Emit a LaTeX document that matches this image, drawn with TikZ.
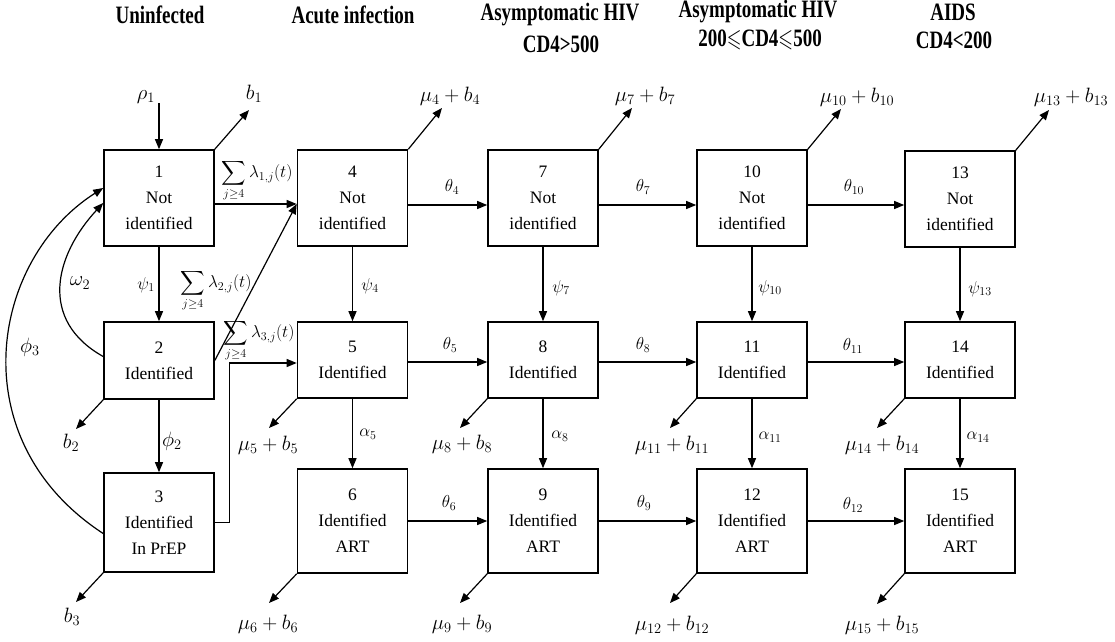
\documentclass[tikz,border=0pt]{standalone}
\usepackage{amssymb}
\usepackage{graphicx}
\usepackage{fontspec}
\setmainfont{Liberation Serif}
\usetikzlibrary{arrows.meta,calc}
\newcommand\hdrtxt[1]{\scalebox{0.95}[1.25]{#1}}
\begin{document}
\begin{tikzpicture}[x=1pt,y=-1pt,
  box/.style={draw,line width=1.6pt,minimum width=110pt,inner sep=0pt,align=center,font=\fontsize{17.5}{26}\selectfont},
  r1box/.style={box,minimum height=96pt},
  r2box/.style={box,minimum height=76pt},
  r3box/.style={box,minimum height=104pt},
  arr/.style={line width=1.2pt,-{Triangle[length=10pt,width=8pt]}},
  lbl/.style={inner sep=0pt,font=\fontsize{20}{24}\selectfont},
  sml/.style={inner sep=0pt,font=\fontsize{17}{20}\selectfont},
  hdr/.style={inner sep=0pt,font=\fontsize{20}{24}\selectfont\bfseries}]
\useasboundingbox (0,0) rectangle (1115,641);

% headers
\node[hdr] (h1) at (160,15) {\hdrtxt{Uninfected}};
\node[hdr] (h2) at (353,15) {\hdrtxt{Acute infection}};
\node[hdr] (h3) at (560,15) {\hdrtxt{Asymptomatic HIV}};
\node[hdr] (h3b) at (561,44) {\hdrtxt{CD4>500}};
\node[hdr] (h4) at (758,12) {\hdrtxt{Asymptomatic HIV}};
\node[hdr] (h4b) at (760,40) {\hdrtxt{200$\leqslant$CD4$\leqslant$500}};
\node[hdr] (h5) at (953,12) {\hdrtxt{AIDS}};
\node[hdr] (h5b) at (954,40) {\hdrtxt{CD4<200}};

% boxes
\node[r1box] (n1) at (159,198) {1\\Not\\identified};
\node[r1box] (n4) at (352.5,198) {4\\Not\\identified};
\node[r1box] (n7) at (543,198) {7\\Not\\identified};
\node[r1box] (n10) at (752,198) {10\\Not\\identified};
\node[r1box] (n13) at (960,199) {13\\Not\\identified};

\node[box,minimum height=77pt] (n2) at (159,360.5) {2\\Identified};
\node[r2box] (n5) at (352.5,360) {5\\Identified};
\node[r2box] (n8) at (543,360) {8\\Identified};
\node[r2box] (n11) at (752,360) {11\\Identified};
\node[r2box] (n14) at (960,360) {14\\Identified};

\node[box,minimum height=99pt] (n3) at (159,522.5) {3\\Identified\\In PrEP};
\node[r3box] (n6) at (352.5,521) {6\\Identified\\ART};
\node[r3box] (n9) at (543,521) {9\\Identified\\ART};
\node[r3box] (n12) at (752,521) {12\\Identified\\ART};
\node[r3box] (n15) at (960,521) {15\\Identified\\ART};

% inflow rho
\coordinate (r1) at (159,103);
\draw[arr] (r1) -- (n1.north);
\node[lbl] (lr1) at (146,97) {$\rho_1$};

% top-right outflows
\coordinate (o1) at (249,110);
\coordinate (o4) at (442,108);
\coordinate (o7) at (632,108);
\coordinate (o10) at (841,109);
\coordinate (o13) at (1049,110);
\draw[arr] (n1.north east) -- (o1);
\draw[arr] (n4.north east) -- (o4);
\draw[arr] (n7.north east) -- (o7);
\draw[arr] (n10.north east) -- (o10);
\draw[arr] (n13.north east) -- (o13);
\node[lbl] (lo1) at (254,94) {$b_1$};
\node[lbl] (lo4) at (450,96) {$\mu_4+b_4$};
\node[lbl] (lo7) at (645,96) {$\mu_7+b_7$};
\node[lbl] (lo10) at (857,97) {$\mu_{10}+b_{10}$};
\node[lbl] (lo13) at (1071,97) {$\mu_{13}+b_{13}$};

% bottom-left outflows
\coordinate (d2) at (76,429);
\coordinate (d3) at (76,602);
\coordinate (d5) at (269,428);
\coordinate (d6) at (269,603);
\coordinate (d8) at (460,428);
\coordinate (d9) at (460,603);
\coordinate (d11) at (670,428);
\coordinate (d12) at (670,603);
\coordinate (d14) at (877,428);
\coordinate (d15) at (877,604);
\draw[arr] (n2.south west) -- (d2);
\draw[arr] (n3.south west) -- (d3);
\draw[arr] (n5.south west) -- (d5);
\draw[arr] (n6.south west) -- (d6);
\draw[arr] (n8.south west) -- (d8);
\draw[arr] (n9.south west) -- (d9);
\draw[arr] (n11.south west) -- (d11);
\draw[arr] (n12.south west) -- (d12);
\draw[arr] (n14.south west) -- (d14);
\draw[arr] (n15.south west) -- (d15);
\node[lbl] (ld2) at (71,443) {$b_2$};
\node[lbl] (ld3) at (72,617) {$b_3$};
\node[lbl] (ld5) at (268,445) {$\mu_5+b_5$};
\node[lbl] (ld6) at (268,624) {$\mu_6+b_6$};
\node[lbl] (ld8) at (462,444) {$\mu_8+b_8$};
\node[lbl] (ld9) at (462,624) {$\mu_9+b_9$};
\node[lbl] (ld11) at (672,445) {$\mu_{11}+b_{11}$};
\node[lbl] (ld12) at (672,625) {$\mu_{12}+b_{12}$};
\node[lbl] (ld14) at (882,445) {$\mu_{14}+b_{14}$};
\node[lbl] (ld15) at (882,625) {$\mu_{15}+b_{15}$};

% horizontal progression
\draw[arr] ($(n1.east)+(0,6)$) -- ($(n4.west)+(0,6)$);
\draw[arr] ($(n4.east)+(0,7)$) -- ($(n7.west)+(0,7)$);
\draw[arr] ($(n7.east)+(0,7)$) -- ($(n10.west)+(0,7)$);
\draw[arr] ($(n10.east)+(0,7)$) -- ($(n13.west)+(0,6)$);
\draw[arr] ($(n5.east)+(0,2)$) -- ($(n8.west)+(0,2)$);
\draw[arr] ($(n8.east)+(0,2)$) -- ($(n11.west)+(0,2)$);
\draw[arr] ($(n11.east)+(0,2)$) -- ($(n14.west)+(0,2)$);
\draw[arr] (n6.east) -- (n9.west);
\draw[arr] (n9.east) -- (n12.west);
\draw[arr] (n12.east) -- (n15.west);
\node[sml] (t4) at (452,187) {$\theta_4$};
\node[sml] (t7) at (643,187) {$\theta_7$};
\node[sml] (t10) at (854,187) {$\theta_{10}$};
\node[sml] (t5) at (450,345) {$\theta_5$};
\node[sml] (t8) at (643,345) {$\theta_8$};
\node[sml] (t11) at (853,346) {$\theta_{11}$};
\node[sml] (t6) at (449,503) {$\theta_6$};
\node[sml] (t9) at (644,503) {$\theta_9$};
\node[sml] (t12) at (853,505) {$\theta_{12}$};

% vertical
\draw[arr] (n1.south) -- (n2.north);
\draw[arr] (n2.south) -- (n3.north);
\draw[arr] (n4.south) -- (n5.north);
\draw[arr] (n5.south) -- (n6.north);
\draw[arr] (n7.south) -- (n8.north);
\draw[arr] (n8.south) -- (n9.north);
\draw[arr] (n10.south) -- (n11.north);
\draw[arr] (n11.south) -- (n12.north);
\draw[arr] (n13.south) -- (n14.north);
\draw[arr] (n14.south) -- (n15.north);
\node[sml] (p1) at (146,285) {$\psi_1$};
\node[sml] (p4) at (370,286) {$\psi_4$};
\node[sml] (p7) at (561,288) {$\psi_7$};
\node[sml] (p10) at (770,288) {$\psi_{10}$};
\node[sml] (p13) at (980,289) {$\psi_{13}$};
\node[lbl] (f2) at (172,441) {$\phi_2$};
\node[sml] (a5) at (368,434) {$\alpha_5$};
\node[sml] (a8) at (560,436) {$\alpha_8$};
\node[sml] (a11) at (770,437) {$\alpha_{11}$};
\node[sml] (a14) at (978,437) {$\alpha_{14}$};

% infection flows
\draw[arr] (n2.east) -- ($(n4.west)+(0,6)$);
\draw[arr] (n3.east) -- ++(15,0) |- ($(n5.west)+(0,3)$);
\node[sml] (l1) at (257,181) {$\displaystyle\sum_{j\ge4}\lambda_{1,j}(t)$};
\node[sml] (l2) at (216,291) {$\displaystyle\sum_{j\ge4}\lambda_{2,j}(t)$};
\node[sml] (l3) at (259,341) {$\displaystyle\sum_{j\ge4}\lambda_{3,j}(t)$};

% return curves
\draw[arr] ($(n2.west)+(0,-4)$) .. controls (38,320) and (55,255) .. ($(n1.west)+(0,5)$);
\draw[arr] ($(n3.west)+(0,11)$) .. controls (-40,440) and (-10,260) .. ($(n1.west)+(0,-10)$);
\node[lbl] (w2) at (80,283) {$\omega_2$};
\node[lbl] (f3) at (30,347) {$\phi_3$};
\end{tikzpicture}
\end{document}
